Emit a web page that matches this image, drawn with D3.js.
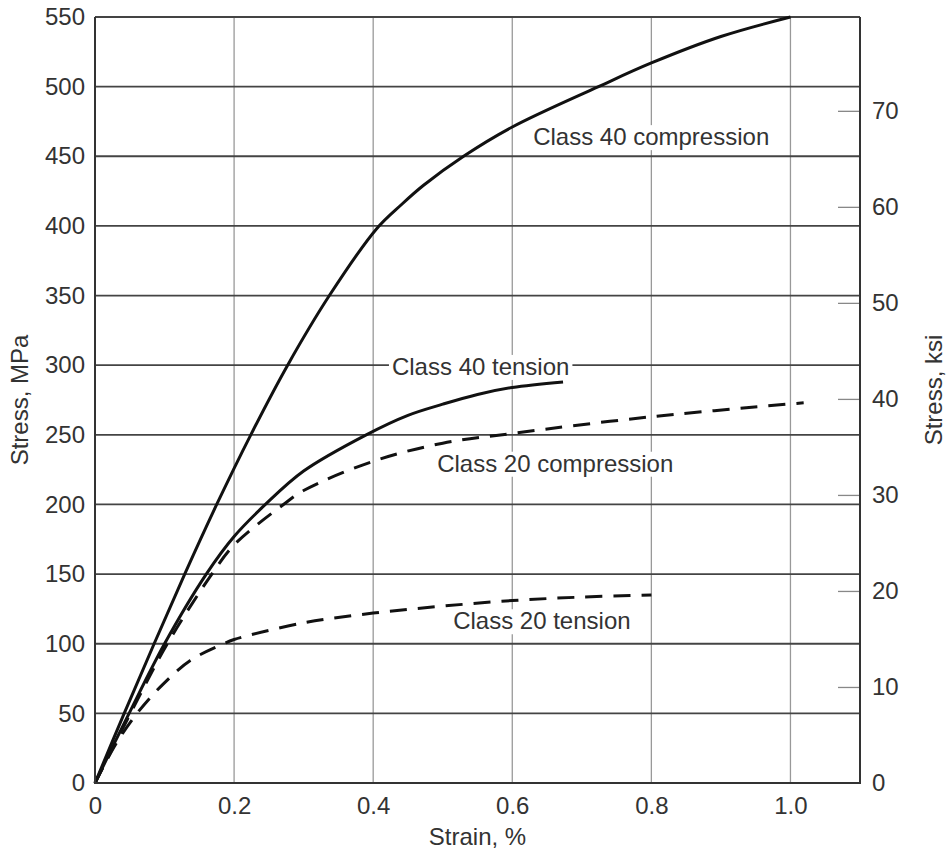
<html>
  <head>
    <meta charset="utf-8" />
    <title>Stress-strain curves</title>
    <script src="https://d3js.org/d3.v7.min.js"></script>
    <style>
      body {
        margin: 0;
        background: #fff;
      }
      text {
        font-family: "Liberation Sans", Arial, sans-serif;
        fill: #333;
      }
    </style>
  </head>
  <body>
    <svg id="chart"></svg>

    <script>
      // strain in %, stress in MPa
      var c40CompStrain = [0, 0.042, 0.085, 0.129, 0.175, 0.224, 0.277, 0.337, 0.405, 0.44, 0.472, 0.53, 0.6, 0.724, 0.8, 0.9, 1.0];
      var c40CompStress = [0, 50, 100, 150, 200, 250, 300, 350, 398, 415, 429, 450, 471, 500, 517, 536, 550];

      var c40TenStrain = [0, 0.049, 0.1, 0.16, 0.2, 0.245, 0.3, 0.39, 0.45, 0.5, 0.55, 0.6, 0.673];
      var c40TenStress = [0, 50, 100, 150, 177, 200, 224, 250, 264, 272, 279, 284, 288];

      var c20CompStrain = [0, 0.051, 0.104, 0.168, 0.2, 0.271, 0.3, 0.4, 0.5, 0.6, 0.8, 1.019];
      var c20CompStress = [0, 50, 100, 150, 171, 200, 210, 231, 244, 251, 263, 273];

      var c20TenStrain = [0, 0.03, 0.062, 0.098, 0.137, 0.185, 0.2, 0.3, 0.4, 0.5, 0.6, 0.7, 0.8];
      var c20TenStress = [0, 28, 51, 71, 88, 100, 103, 115, 122, 127, 131, 133.5, 135];

      var seriesNames = ["Class 40 compression", "Class 40 tension", "Class 20 compression", "Class 20 tension"];
      var seriesDashed = [false, false, true, true];

      // label anchors (strain, stress of the text's left baseline)
      var labelStrain = [0.63, 0.427, 0.492, 0.515];
      var labelStress = [458, 293, 223.5, 110.4];

      var xTicks = [0, 0.2, 0.4, 0.6, 0.8, 1.0];
      var yTicks = d3.range(0, 551, 50);
      var ksiTicks = d3.range(10, 71, 10);

      var MPA_PER_KSI = 6.894757;

      var width = 946;
      var height = 850;
      var margin = { top: 17, right: 86, bottom: 67, left: 95 };

      var svg = d3.select("#chart")
        .attr("width", width)
        .attr("height", height);

      var x = d3.scaleLinear()
        .domain([0, 1.1])
        .range([margin.left, width - margin.right]);

      var y = d3.scaleLinear()
        .domain([0, 550])
        .range([height - margin.bottom, margin.top]);

      var yKsi = d3.scaleLinear()
        .domain([0, 550 / MPA_PER_KSI])
        .range(y.range());

      var x0 = x.range()[0], x1 = x.range()[1];
      var y0 = y.range()[0], y1 = y.range()[1];

      // vertical grid (light)
      svg.append("g").selectAll("line")
        .data(xTicks.filter(function(d) { return d > 0; }))
        .enter().append("line")
          .attr("x1", function(d) { return x(d); })
          .attr("x2", function(d) { return x(d); })
          .attr("y1", y1)
          .attr("y2", y0)
          .attr("stroke", "#999")
          .attr("stroke-width", 1.3);

      // horizontal grid (dark)
      svg.append("g").selectAll("line")
        .data(yTicks.filter(function(d) { return d > 0; }))
        .enter().append("line")
          .attr("x1", x0)
          .attr("x2", x1)
          .attr("y1", function(d) { return y(d); })
          .attr("y2", function(d) { return y(d); })
          .attr("stroke", "#444")
          .attr("stroke-width", 1.8);

      // curve labels with white backing
      var labels = svg.append("g");
      seriesNames.forEach(function(name, i) {
        var g = labels.append("g");
        var t = g.append("text")
          .attr("x", x(labelStrain[i]))
          .attr("y", y(labelStress[i]))
          .attr("font-size", 24)
          .text(name);
        var bb = t.node().getBBox();
        g.insert("rect", "text")
          .attr("x", bb.x - 3)
          .attr("y", bb.y + 2)
          .attr("width", bb.width + 6)
          .attr("height", bb.height - 2)
          .attr("fill", "#fff");
      });

      // curves
      var line = d3.line()
        .x(function(d) { return x(d[0]); })
        .y(function(d) { return y(d[1]); })
        .curve(d3.curveCatmullRom.alpha(0.5));

      var strains = [c40CompStrain, c40TenStrain, c20CompStrain, c20TenStrain];
      var stresses = [c40CompStress, c40TenStress, c20CompStress, c20TenStress];

      var curves = strains.map(function(s, i) {
        return s.map(function(v, j) { return [v, stresses[i][j]]; });
      });

      svg.append("g").selectAll("path")
        .data(curves)
        .enter().append("path")
          .attr("d", line)
          .attr("fill", "none")
          .attr("stroke", "#111")
          .attr("stroke-width", 3)
          .attr("stroke-dasharray", function(d, i) { return seriesDashed[i] ? "17,11" : null; });

      // axes
      var yAxis = d3.axisLeft(y)
        .tickValues(yTicks)
        .tickSize(0)
        .tickPadding(10);
      svg.append("g")
        .attr("transform", "translate(" + x0 + ",0)")
        .call(yAxis)
        .call(function(g) { g.select(".domain").remove(); })
        .selectAll("text")
          .attr("font-size", 24)
          .attr("fill", "#333")
          .attr("font-family", null);

      var xAxis = d3.axisBottom(x)
        .tickValues(xTicks)
        .tickSize(0)
        .tickPadding(14)
        .tickFormat(function(d) { return d === 0 ? "0" : d3.format(".1f")(d); });
      svg.append("g")
        .attr("transform", "translate(0," + y0 + ")")
        .call(xAxis)
        .call(function(g) { g.select(".domain").remove(); })
        .selectAll("text")
          .attr("font-size", 24)
          .attr("fill", "#333")
          .attr("font-family", null);

      var ksiAxis = d3.axisRight(yKsi)
        .tickValues(ksiTicks)
        .tickSizeInner(-22)
        .tickSizeOuter(0)
        .tickPadding(12);
      var ksiG = svg.append("g")
        .attr("transform", "translate(" + x1 + ",0)")
        .call(ksiAxis)
        .call(function(g) { g.select(".domain").remove(); });
      ksiG.selectAll("line")
        .attr("stroke", "#888")
        .attr("stroke-width", 1.3);
      ksiG.selectAll("text")
        .attr("font-size", 24)
        .attr("fill", "#333")
        .attr("font-family", null);
      // zero label on the ksi side
      ksiG.append("text")
        .attr("x", 12)
        .attr("y", yKsi(0))
        .attr("dy", "0.32em")
        .attr("font-size", 24)
        .text("0");

      // frame
      svg.append("path")
        .attr("d", "M" + x0 + "," + y1 + "V" + y0 + "H" + x1 + "V" + y1)
        .attr("fill", "none")
        .attr("stroke", "#333")
        .attr("stroke-width", 2);

      // axis titles
      svg.append("text")
        .attr("transform", "translate(28," + y(275) + ") rotate(-90)")
        .attr("text-anchor", "middle")
        .attr("font-size", 24)
        .text("Stress, MPa");

      svg.append("text")
        .attr("transform", "translate(934,390) rotate(-90)")
        .attr("text-anchor", "middle")
        .attr("dy", "0.35em")
        .attr("font-size", 24)
        .text("Stress, ksi");

      svg.append("text")
        .attr("x", (x0 + x(1.1)) / 2)
        .attr("y", 845)
        .attr("text-anchor", "middle")
        .attr("font-size", 24)
        .text("Strain, %");
    </script>
  </body>
</html>
